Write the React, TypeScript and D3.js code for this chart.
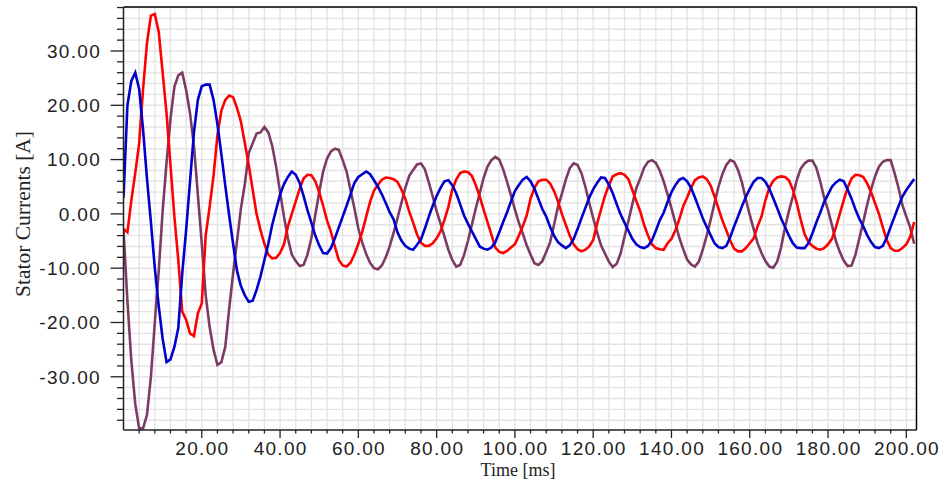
import React from 'react';
import * as d3 from 'd3';

// sampling instants [ms]
const timeMs: number[] = d3.range(0, 203, 1);

// Phase currents [A], one value per ms
const phaseRed: number[] = [
  -2.8, -3.4, 2.5, 7.5, 13, 23, 31.5, 36.5, 36.8, 33.5,
  26, 18.5, 9, -0.5, -8.5, -18, -19.5, -22, -22.5, -18.3,
  -16.5, -4, 1.3, 7, 14.5, 19, 21, 21.8, 21.5, 19.5,
  17, 13, 9, 4.5, 0, -3, -5.5, -7.5, -8.2, -8.1,
  -7.2, -5.6, -2.3, 0, 2.3, 4.6, 6.5, 7.2, 7.1, 6,
  4, 1.5, -1.2, -3.3, -6, -8.5, -9.5, -9.7, -9, -7.5,
  -5.5, -3.3, -0.5, 2.2, 4.3, 5.3, 6.3, 6.7, 6.6, 6.4,
  5.9, 4.5, 2.8, 0.4, -1.6, -3.8, -5.3, -5.9, -5.9, -5.4,
  -4.5, -3.2, -1.1, 1.3, 4.5, 6.3, 7.5, 7.8, 7.7, 7,
  5.3, 3.2, 0.8, -1.5, -3.8, -6.2, -7, -7.2, -6.8, -6.2,
  -5.6, -4, -2.3, -0.3, 2.8, 4.8, 6, 6.3, 6.3, 5.6,
  4.2, 2.3, 0, -2, -4, -5.6, -6.5, -6.9, -6.6, -6,
  -4.8, -1.8, 0.8, 3.3, 5.3, 6.9, 7.3, 7.5, 7.2, 6.4,
  4.4, 2.4, 0.5, -2, -4, -5.6, -6.3, -6.5, -6.6, -5.4,
  -4.6, -3, -1, 1.4, 3, 4.8, 6.2, 6.7, 6.9, 6.4,
  5.2, 3.2, 1, -1.2, -3, -4.9, -6.4, -6.9, -6.9, -6.3,
  -5.4, -4.5, -2.3, -0.5, 2.5, 4.8, 6.1, 6.7, 6.9, 6.8,
  6.2, 4.5, 2, -1, -3.7, -5.2, -5.9, -6.4, -6.6, -6.3,
  -5.6, -4.6, -2.5, 0, 2.5, 4.8, 6.5, 7.2, 7.1, 6.8,
  5.6, 4, 2, 0, -2.5, -4.8, -6.3, -6.8, -6.8, -6.3,
  -5.6, -4.2, -1.5,
];

const phaseBlue: number[] = [
  3, 20, 24.5, 26, 23, 15.5, 6.5, -1.5, -10, -17,
  -23, -27.3, -26.8, -24.5, -21, -11, -3, 6, 15, 21,
  23.5, 23.8, 23.8, 21, 16.5, 11, 5.2, -0.3, -5.5, -10.5,
  -13.3, -15, -16.2, -16, -14, -11.5, -8.5, -5.5, -2, 0.8,
  3.6, 5.5, 6.8, 7.8, 7.2, 5.7, 3.3, 0.7, -1.6, -4,
  -5.8, -7.2, -7.3, -6.3, -4.5, -2.5, -0.5, 1.5, 3.6, 5.7,
  6.8, 7.3, 7.8, 7.3, 6.2, 5, 3.6, 2, 0.3, -1,
  -3.4, -4.9, -5.9, -6.4, -6.6, -5.7, -4.7, -2.7, -0.5, 1.5,
  3.3, 4.8, 6, 6.2, 5.3, 3.8, 1.8, -0.3, -1.8, -3.2,
  -4.6, -6, -6.4, -6.6, -6.2, -5.2, -3.4, -1.5, 0.3, 2.3,
  4.2, 5.3, 6.3, 6.8, 6, 4.6, 2.8, 0.9, -0.5, -2.4,
  -4, -5.2, -5.8, -6.3, -5.8, -4.6, -2.8, -0.8, 1.1, 3,
  4.5, 5.7, 6.7, 6.6, 5.4, 3.8, 1.8, -0.1, -1.6, -3.1,
  -4.6, -5.6, -6.1, -6.3, -5.9, -4.9, -3.1, -1.2, 0.2, 2.2,
  4, 5.3, 6.3, 6.6, 6, 4.8, 3, 1.1, -0.8, -2.4,
  -3.9, -5.4, -6.1, -6.3, -5.9, -4.3, -2.3, -0.5, 1.4, 3.1,
  4.6, 5.9, 6.6, 6.6, 5.9, 4.6, 2.9, 1.1, -0.8, -2.4,
  -4, -5.4, -6.2, -6.3, -6.3, -5.4, -3.6, -1.6, 0.2, 2.2,
  3.6, 5, 5.8, 6.3, 6, 4.5, 2.8, 0.8, -0.9, -2.3,
  -3.9, -5.2, -6.1, -6.3, -5.9, -4.4, -2.4, -0.5, 1.4, 3.2,
  4.4, 5.4, 6.4,
];

const phasePurple: number[] = [
  -3, -16, -27, -35, -39.5, -39.5, -37, -30, -20, -10.5,
  0.5, 9.5, 17.5, 23.4, 25.5, 26, 22.8, 18.5, 12.5, 3.5,
  -5.5, -15, -20.8, -25, -27.8, -27.3, -24.5, -17.5, -11, -5,
  1, 5.5, 11.2, 13, 14.8, 15, 16, 15, 12.5, 8.7,
  4, -0.5, -4.5, -7.5, -8.7, -9.6, -9.4, -7.5, -4.5, -0.2,
  4, 7.8, 10.2, 11.5, 12, 11.8, 9.9, 7.8, 4.4, 1,
  -2.7, -5.3, -7.4, -9, -10, -10.2, -9.5, -8, -6, -3.5,
  -0.8, 2, 4.8, 7, 8.1, 9.1, 9.3, 8.2, 5.8, 3.2,
  0.5, -1.8, -4.2, -6.6, -8.5, -9.7, -9.4, -7.6, -5, -2,
  1, 3.8, 6.6, 8.7, 9.9, 10.5, 10, 8.2, 5.9, 3.4,
  0.8, -1.6, -3.6, -5.8, -7.5, -9.1, -9.4, -8.7, -7, -5.2,
  -2, 1.3, 3.7, 6.3, 8.4, 9.3, 9, 7.5, 5, 2,
  -0.8, -3.4, -5.8, -7.3, -8.8, -9.8, -9.2, -7.3, -4.2, -1.3,
  1.8, 4.7, 6.5, 8.5, 9.6, 9.9, 9.4, 8, 6, 3.6,
  1, -1.7, -4.4, -6.5, -8.4, -9.3, -9.7, -8.8, -6.6, -4,
  -1.1, 2, 5, 7.3, 9, 9.9, 9.6, 8.1, 5.8, 2.7,
  -0.2, -2.8, -5.4, -7.2, -8.7, -9.7, -9.9, -8.8, -6.2, -2.5,
  0.5, 3.2, 6.2, 8.3, 9.3, 9.8, 9.8, 8.5, 6, 3,
  0.7, -2.1, -5, -7, -8.6, -9.6, -9.5, -7.5, -4.5, -1.5,
  1.7, 4.5, 6.9, 8.7, 9.6, 9.9, 9.9, 7.5, 4.8, 1.6,
  -0.5, -2.5, -5.5,
];

const yMajorTicks: number[] = [-30, -20, -10, 0, 10, 20, 30];
const xMajorTicks: number[] = [20, 40, 60, 80, 100, 120, 140, 160, 180, 200];
const xTitle = 'Time [ms]';
const yTitle = 'Stator Currents [A]';

const series = [
  { name: 'C', values: phasePurple, color: '#7b3b63' },
  { name: 'A', values: phaseRed, color: '#ff0000' },
  { name: 'B', values: phaseBlue, color: '#0000cc' },
];

export default function App() {
  const W = 945;
  const H = 479;
  const left = 123.5;
  const right = 916.5;
  const top = 7;
  const bottom = 430;

  const x = d3.scaleLinear().domain([0, 202.6]).range([left, right]);
  const y = d3.scaleLinear().domain([-39.8, 38.1]).range([bottom, top]);

  const xMinor = d3.range(4, 202, 4);
  const yMinor = d3.range(-38, 39, 2);

  const line = (vals: number[]) =>
    d3
      .line<number>()
      .x((_, i) => x(timeMs[i]))
      .y((d) => y(d))
      .curve(d3.curveLinear)(vals) || '';

  const tickFont = '"Liberation Sans", Arial, sans-serif';
  const titleFont = '"Liberation Serif", "Times New Roman", serif';

  return (
    <svg
      width={W}
      height={H}
      viewBox={`0 0 ${W} ${H}`}
      style={{ position: 'absolute', left: 0, top: 0, background: '#ffffff' }}
    >
      <defs>
        <clipPath id="plotClip">
          <rect x={left} y={top} width={right - left} height={bottom - top} />
        </clipPath>
      </defs>
      <rect x={0} y={0} width={W} height={H} fill="#ffffff" />

      {/* grid */}
      <g stroke="#e4e4e4" strokeWidth={1.4}>
        {xMinor.map((t) => (
          <line key={'gx' + t} x1={x(t)} x2={x(t)} y1={top} y2={bottom} />
        ))}
        {yMinor.map((v) => (
          <line key={'gy' + v} x1={left} x2={right} y1={y(v)} y2={y(v)} />
        ))}
      </g>

      {/* series */}
      <g clipPath="url(#plotClip)" fill="none" strokeWidth={2.6} strokeLinejoin="miter">
        {series.map((s) => (
          <path key={s.name} d={line(s.values)} stroke={s.color} />
        ))}
      </g>

      {/* frame */}
      <line x1={left} x2={right} y1={top} y2={top} stroke="#000" strokeWidth={1.5} />
      <line x1={right} x2={right} y1={top} y2={bottom} stroke="#000" strokeWidth={1.5} />
      <line x1={left} x2={left} y1={top} y2={bottom} stroke="#222" strokeWidth={1.5} />
      <line x1={left} x2={right} y1={bottom} y2={bottom} stroke="#222" strokeWidth={1.5} />

      {/* y ticks */}
      <g stroke="#222" strokeWidth={1.3}>
        {yMinor.map((v) => (
          <line
            key={'yt' + v}
            x1={left - (yMajorTicks.includes(v) ? 13 : 6.5)}
            x2={left}
            y1={y(v)}
            y2={y(v)}
          />
        ))}
      </g>
      <g fontFamily={tickFont} fontSize={19} fill="#222" textAnchor="end" letterSpacing={1.3}>
        {yMajorTicks.map((v) => (
          <text key={'yl' + v} x={101} y={y(v)} dy="0.36em">
            {v.toFixed(2)}
          </text>
        ))}
      </g>

      {/* x ticks */}
      <g stroke="#222" strokeWidth={1.3}>
        {xMinor.map((t) => (
          <line
            key={'xt' + t}
            x1={x(t)}
            x2={x(t)}
            y1={bottom}
            y2={bottom + (xMajorTicks.includes(t) ? 8 : 3.5)}
          />
        ))}
      </g>
      <g fontFamily={tickFont} fontSize={19} fill="#222" textAnchor="middle" letterSpacing={1.3}>
        {xMajorTicks.map((t) => (
          <text key={'xl' + t} x={x(t) + 0.6} y={455}>
            {t.toFixed(2)}
          </text>
        ))}
      </g>

      {/* titles */}
      <text
        x={518}
        y={475.5}
        textAnchor="middle"
        fontFamily={titleFont}
        fontSize={18}
        fill="#222"
      >
        {xTitle}
      </text>
      <text
        transform={`translate(30, 214) rotate(-90)`}
        textAnchor="middle"
        fontFamily={titleFont}
        fontSize={21.5}
        fill="#222"
      >
        {yTitle}
      </text>
    </svg>
  );
}
